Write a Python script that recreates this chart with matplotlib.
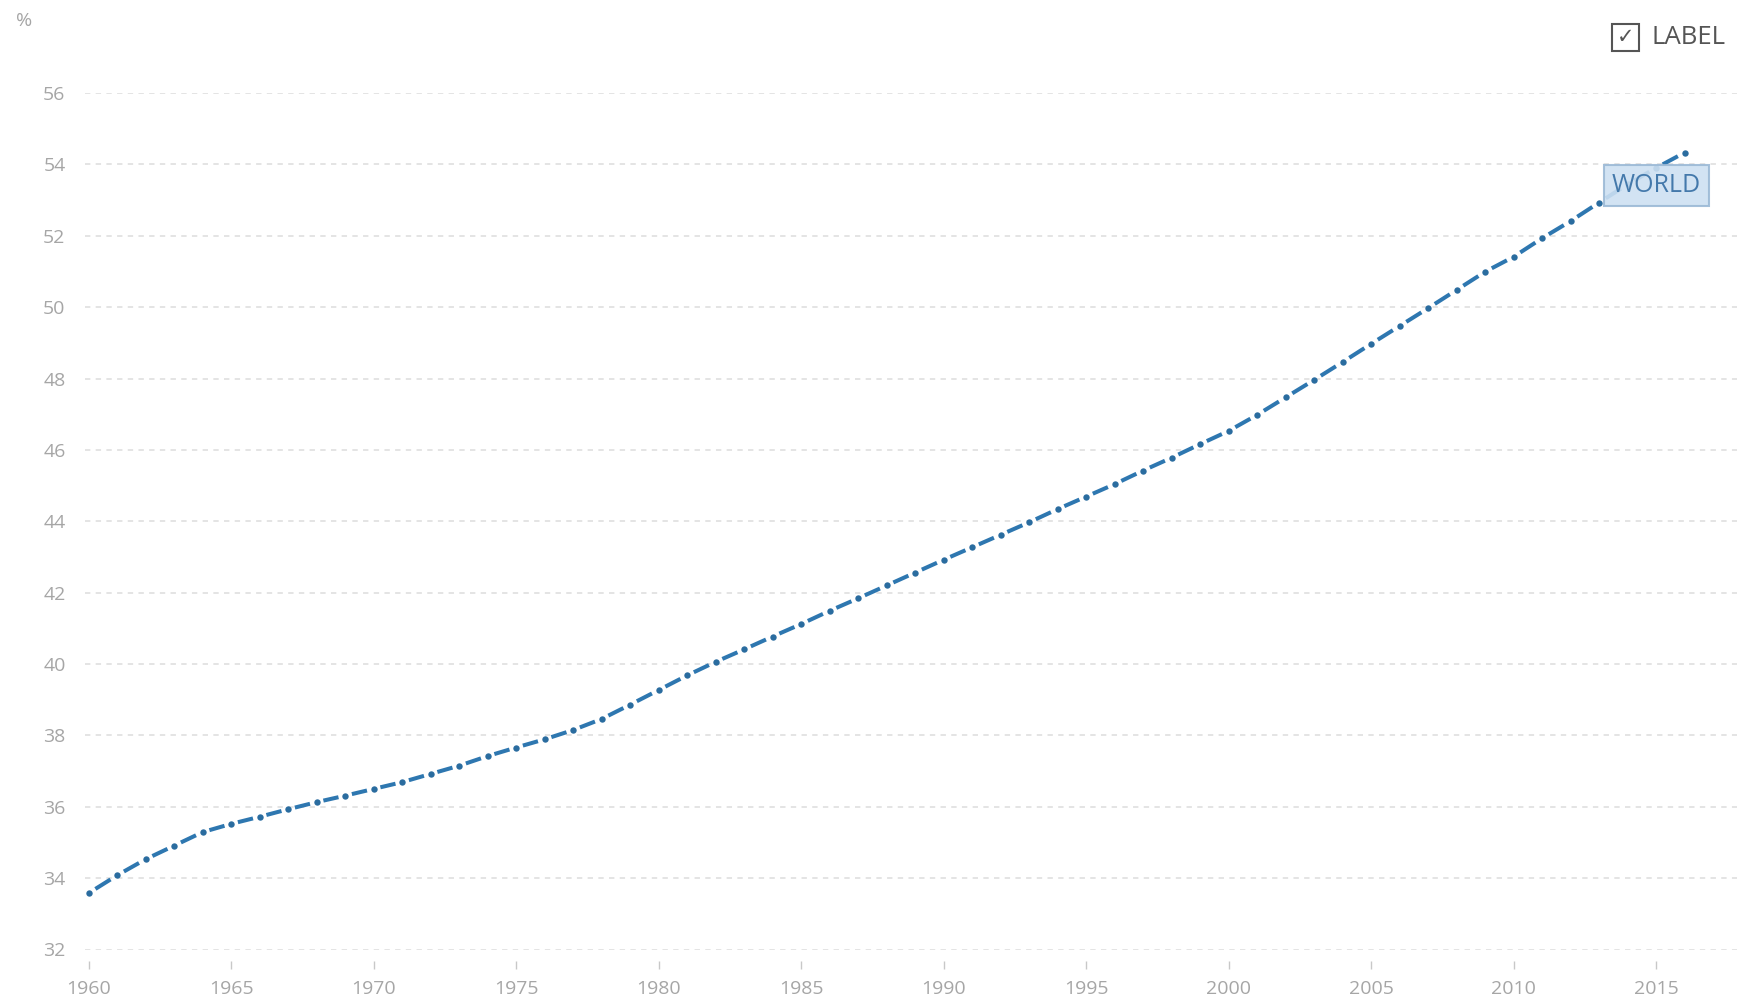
import matplotlib.pyplot as plt
import numpy as np
from matplotlib.collections import LineCollection
from matplotlib.patches import Rectangle

years = np.arange(1960, 2017)
world = [33.58, 34.08, 34.53, 34.91, 35.29, 35.52, 35.72, 35.93, 36.13, 36.31,
         36.50, 36.69, 36.92, 37.15, 37.42, 37.66, 37.89, 38.15, 38.46, 38.86,
         39.27, 39.68, 40.06, 40.41, 40.77, 41.12, 41.49, 41.84, 42.20, 42.56,
         42.92, 43.27, 43.62, 43.97, 44.34, 44.69, 45.04, 45.42, 45.78, 46.16,
         46.53, 46.98, 47.47, 47.96, 48.46, 48.97, 49.47, 49.97, 50.48, 50.99,
         51.41, 51.93, 52.41, 52.93, 53.44, 53.90, 54.33]
yticks = list(range(32, 57, 2))
xticks = list(range(1960, 2016, 5))
series_name = "WORLD"

blue = "#2e77b0"
grey = "#a6a6a6"

plt.rcParams['font.family'] = ['Open Sans', 'DejaVu Sans']

W, H = 1737, 1001
fig = plt.figure(figsize=(W / 100, H / 100), dpi=100)
ax = fig.add_axes([85 / W, 1 - 949.5 / H, (W - 85) / W, (949.5 - 93) / H])

ax.set_xlim(1959.87, 2017.84)
ax.set_ylim(32, 56)

# dash between consecutive years, dot on each year
x = np.asarray(years, float)
y = np.asarray(world, float)
t0, t1 = 0.235, 0.765
segs = []
for i in range(len(x) - 1):
    xa = x[i] + t0 * (x[i + 1] - x[i])
    ya = y[i] + t0 * (y[i + 1] - y[i])
    xb = x[i] + t1 * (x[i + 1] - x[i])
    yb = y[i] + t1 * (y[i + 1] - y[i])
    segs.append([(xa, ya), (xb, yb)])
ax.add_collection(LineCollection(segs, colors=blue, linewidths=2.9,
                                 capstyle='butt', zorder=3))
ax.plot(x, y, 'o', color="#2a6c9f", markersize=4.6, markeredgewidth=0, zorder=4)

# label box
ax.annotate(series_name, xy=(2015, y[-2]), xytext=(0, -13), textcoords='offset points',
            ha='center', va='center', fontsize=18, color="#4479ab", zorder=5,
            bbox=dict(boxstyle='square,pad=0.32', fc="#cde0f2", ec="#9bb9d6",
                      lw=1.5, alpha=0.9))

ax.set_yticks(yticks)
ax.set_xticks(xticks)
ax.grid(axis='y', color="#dcdcdc", linestyle=(0, (3.5, 3.5)), linewidth=1.1)
ax.set_axisbelow(True)
for s in ax.spines.values():
    s.set_visible(False)
ax.spines['bottom'].set_position(('outward', 8))
ax.tick_params(axis='y', length=0, pad=14, labelsize=14, labelcolor=grey)
ax.tick_params(axis='x', length=6, width=1, color="#c8c8c8", pad=8,
               labelsize=14, labelcolor=grey)

fig.text(16 / W, 1 - 21 / H, "%", fontsize=14, color=grey, va='center', ha='left')

# checkbox + LABEL
fig.patches.append(Rectangle((1612 / W, 1 - 51 / H), 27 / W, 27 / H,
                             transform=fig.transFigure, fill=False,
                             ec="#555555", lw=1.5))
fig.text(1626 / W, 1 - 37 / H, "\u2713", fontsize=15, color="#555555",
         ha='center', va='center', family=['DejaVu Sans'])
fig.text(1652 / W, 1 - 37 / H, "LABEL", fontsize=18.5, color="#555555",
         ha='left', va='center')

fig.savefig("out.png", dpi=100, facecolor='white')
